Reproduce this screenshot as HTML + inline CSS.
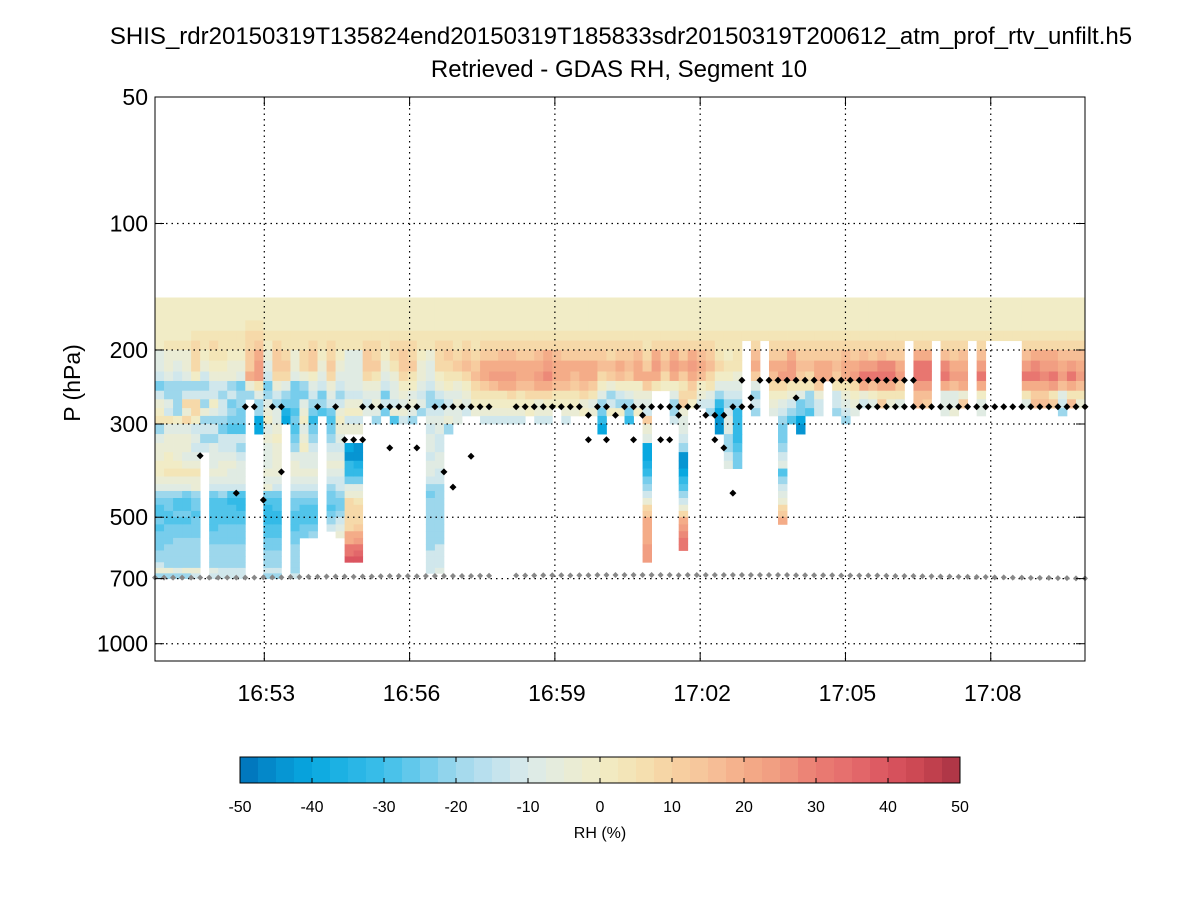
<!DOCTYPE html>
<html><head><meta charset="utf-8"><title>Retrieved - GDAS RH</title>
<style>
html,body{margin:0;padding:0;background:#fff;}
svg{display:block;font-family:"Liberation Sans",sans-serif;}
</style></head>
<body>
<svg id="chart" xmlns="http://www.w3.org/2000/svg" width="1200" height="900" viewBox="0 0 1200 900">
  <rect x="0" y="0" width="1200" height="900" fill="#fff"/>
  <text x="621" y="44" text-anchor="middle" font-size="24">SHIS_rdr20150319T135824end20150319T185833sdr20150319T200612_atm_prof_rtv_unfilt.h5</text>
  <text x="619" y="77" text-anchor="middle" font-size="24">Retrieved - GDAS RH, Segment 10</text>
  <text transform="translate(80,383) rotate(-90)" text-anchor="middle" font-size="23">P (hPa)</text>
  <g id="cells"></g>
  <g id="grid"></g>
  <g id="marks"></g>
  <g id="axes"></g>
  <g id="cbar"></g>
  <text x="600" y="838" text-anchor="middle" font-size="16">RH (%)</text>
</svg>
<script>
// ---- data ----
var pressureEdges = [150,160,170,180,190,200,212,225,237,250,262,275,287,300,317,333,350,367,383,400,417,433,450,467,483,500,520,540,560,580,600,620,640,660,680,700];
// each char: A=-48 ... M=0 ... Y=+48 (step 4), '.' = missing; one string per time column, rows top->down
var columnValues = [
"MMMMM KKJG JLMN HKLLMMLKHGFF GFGGGHHJLH",
"MMMMN LLKH HKJN KLLMMNLKHGGF FGGGHHHHLH",
"MMMMN LKJH HHHM KLLLMNLKHFFG FGGHHHHHKH",
"MMMMN LLKH JOLO KLLKLNLKGFFG FGGHHHHHLH",
"MMMNO OOMH JOOM JKJKLNLLHGGF GGGHHHHHLJ",
"MMMNN MLJH JHLH JHJ",
"MMMNO NMLJ JMKH JHKKKLKJGFFF FFGGHHHHKJ",
"MMMNN NMLJ HJJH GJJKLLKJHFFF FGGGHHHHJJ",
"MMMNN MLLH JGHG FJJKLKKJFEFF FGGGHHHHJJ",
"MMMNN MLKG HHGG FJHJKKKJFEEF FGGGHHHHJJ",
"MMNOO PPRL H",
"MMNOP RSSN KHHC C",
"MMMNM LKJG HKLM KLKKKLKLGFEE EFFGGHHHJH",
"MMMNO PPOL JHKK LMLLLLKJGFFE EFFGGHHHJH",
"MMMNN OPOK HGDC",
"MMMNN LLKG GGFG FGHKLLKJHGGF FFGGHHHHHJ",
"MMMNN OOLH GKLM KLMKKLKJHGFF FGG",
"MMMNO PPMK JHGE GHJKKLKJHGFF FGH",
"MMMNN MLKJ GHF",
"MMMNO OPOL KJGF GHJKLKJHGGFG HJ",
"MMMNN MLKJ HJLM LKJKLKJJHGGH JKL",
"MMMNN KKKK JLMJ L.CBEEGKLOOO OORRUUW",
"MMMNN KKKK JLMJ L.BBDEGKLNOO OPRSUVW",
"MMMNO PPOL KJK",
"MMMNO OPNL KLKH",
"MMMNN MLKJ GJG",
"MMMNO ONLK KJLF",
"MMMNO PPOM LKLJ",
"MMMNO OPNM KLKH",
"MMMNN MLLK JKH",
"MMMNN LKKJ HHJK JKKJKKJHGHHH HHHHHJJJJ",
"MMMNO OOML JHJK KJJKKJJHHHHH HHHHJJJJK",
"MMMNO PONM KJKL H",
"MMMNN OPNL KLKK",
"MMMNO PQOM LKJ",
"MMMNN OPQO NML",
"MMMNO PRRP NMLJ",
"MMMNO PRSQ NMLJ",
"MMMNO QRSR NMLJ",
"MMMNO QRSR OMLJ",
"MMMNO PRRQ NMLJ",
"MMMNO PRRQ OMM",
"MMMNO QRSR OLLJ",
"MMMNO RSTR OMLJ",
"MMMNO QRRQ NM",
"MMMNO PRRQ NMLJ",
"MMMNO PRQP NML",
"MMMNO PRRQ OLM",
"MMMNO PRRP NKL",
"MMMNO PQOM KHGE C",
"MMMNO OQPL HJM",
"MMMNO PRQM JHM",
"MMMNO PQPM KHGE",
"MMMNO QRRM LKM",
"MMMNN OPRP LKJP LKCCDEGHJLOP RRRRSSS",
"MMMNO RSRN",
"MMMNO PQOM",
"MMMNO RSRM KHHJ",
"MMMNO PRPN OPLK KJHBBCEFHJLO RSTUU",
"MMMNO RSRP OM",
"MMMNO QRQM LJ",
"MMMNO PQON KJH",
"MMMNN NOMK HECB B",
"MMMNN MNMK JHJK KHHJK",
"MMMNN NNLK JHEE EEFGG",
"MMMN",
"MMMNO QRPK HJH",
"MMMN",
"MMMNO PRQO MLK",
"MMMNO PRSO MKJH GGHJKFHJKLOP R",
"MMMNO RSSN LJHF",
"MMMNO PQPN KGGC B",
"MMMNO PQON HHF",
"MMMNO PRRP LJJ",
"MMMNO PRR",
"MMMNO PQPN JJH",
"MMMNO QRRN LKJH",
"MMMNO PRSO MLK",
"MMMNO QSUR LJ",
"MMMNO PSUQ MK",
"MMMNO QTUR NP",
"MMMNO PTUR NL",
"MMMNO PRSP NK",
"MMMN",
"MMMNO RUUS QQ",
"MMMNO RUUS QP",
"MMMN",
"MMMNO QTUR KKK",
"MMMNO PRSQ KKL",
"MMMNO QRSR LP",
"MMMN",
"MMMNO QSUR MKK",
"MMMN",
"MMMN",
"MMMN",
"MMMN",
"MMMNO QSUR NK",
"MMMNO RTUR PQ",
"MMMNO RSTR PQ",
"MMMNO RSUS NP",
"MMMNO QRSQ KJH",
"MMMNO QSUR NQ",
"MMMNO QRSQ NL"
];
// black markers: column index and pressure (hPa)
var markK = [5,9,10,11,12,13,14,14,18,20,21,22,23,23,24,25,26,26,27,28,29,29,31,32,32,33,33,34,35,35,
 36,37,40,41,42,43,44,45,46,47,48,48,49,50,50,51,52,53,53,54,54,55,56,56,57,57,58,58,59,60,61,62,62,63,63,64,64,65,65,66,66,
 67,68,69,70,71,72,73,74,75,76,77,78,79,80,81,82,83,84,71,
 78,79,80,81,82,83,84,85,86,87,88,89,90,91,92,93,94,95,96,97,98,99,100,101,102,103];
var markP = [357,438,273,273,455,273,273,390,273,273,327,327,327,273,273,273,273,342,273,273,273,342,273,273,390,273,424,273,273,358,
 273,273,273,273,273,273,273,273,273,273,286,327,273,273,327,286,273,273,327,273,286,273,273,327,273,327,273,286,273,273,286,286,327,286,342,273,438,273,236,273,260,
 236,236,236,236,236,236,236,236,236,236,236,236,236,236,236,236,236,236,260,
 273,273,273,273,273,273,273,273,273,273,273,273,273,273,273,273,273,273,273,273,273,273,273,273,273,273];
// gray (near-surface) markers, pressure per column index (null = none)
var grayP = [696,696,696,696,696,696,696,696,696,696,696,696,695,695,695,694,694,693,693,692,692,692,693,692,692,691,690,690,690,691,690,690,690,690,690,690,
 689,689,null,null,688,688,688,687,687,687,688,687,687,686,686,686,686,686,686,686,686,686,687,686,686,686,686,686,686,686,686,686,686,686,686,
 687,687,687,687,687,688,688,688,688,688,689,690,690,690,691,691,692,692,693,693,694,694,695,695,696,696,697,697,697,698,698,699,699];
var yTickValues = [50,100,200,300,500,700,1000];
var yTickLabels = ["50","100","200","300","500","700","1000"];
var xTickMinutes = [53,56,59,62,65,68];
var xTickLabels = ["16:53","16:56","16:59","17:02","17:05","17:08"];
var cbarTicks = [-50,-40,-30,-20,-10,0,10,20,30,40,50];
var cbarLabels = ["-50","-40","-30","-20","-10","0","10","20","30","40","50"];

// ---- scales ----
var NS="http://www.w3.org/2000/svg";
var PL=155, PR=1085, PT=97, PB=661;
var nCols = columnValues.length;
function yP(p){ return 97 + 126.5*Math.log(p/50)/Math.LN2; }
function xCol(k){ return PL + k*(PR-PL)/nCols; }
function xMin(m){ return 264.3 + (m-53)*48.43; }
var stops=[[-50,[0,112,184]],[-45,[5,144,207]],[-40,[8,168,224]],[-30,[62,191,233]],[-25,[109,203,236]],[-20,[157,215,236]],[-15,[191,226,238]],[-10,[219,234,234]],[-5,[232,236,217]],[0,[241,236,198]],[5,[244,227,179]],[10,[247,210,162]],[15,[246,195,154]],[20,[244,172,136]],[25,[240,154,128]],[30,[234,125,114]],[35,[228,107,108]],[40,[219,85,96]],[45,[200,69,80]],[50,[168,50,68]]];
function color(v){
  v=Math.max(-50,Math.min(50,v));
  for(var i=0;i<stops.length-1;i++){
    var a=stops[i],b=stops[i+1];
    if(v<=b[0]){var t=(v-a[0])/(b[0]-a[0]);
      return "rgb("+[0,1,2].map(function(j){return Math.round(a[1][j]+t*(b[1][j]-a[1][j]));}).join(",")+")";}
  }
  return "rgb(168,50,68)";
}
function mk(tag,attrs,parent){var e=document.createElementNS(NS,tag);for(var k in attrs)e.setAttribute(k,attrs[k]);parent.appendChild(e);return e;}

// ---- heatmap ----
var gC=document.getElementById('cells');
columnValues.forEach(function(str,i){
  var s=str.replace(/ /g,'');
  for(var r=0;r<s.length && r<pressureEdges.length-1;r++){
    var ch=s[r]; if(ch==='.') continue;
    var v=(ch.charCodeAt(0)-77)*4;
    var y0=yP(pressureEdges[r]), y1=yP(pressureEdges[r+1]);
    var x0=xCol(i), x1=xCol(i+1);
    var rc=mk('rect',{x:x0.toFixed(2),y:y0.toFixed(2),width:(x1-x0+0.4).toFixed(2),height:(y1-y0+0.4).toFixed(2),fill:color(v)},gC);
    
    
  }
});

// ---- grid ----
var gG=document.getElementById('grid');
yTickValues.forEach(function(p){
  if(p===50) return;
  var y=yP(p);
  var l=mk('line',{x1:PL,x2:PR,y1:y,y2:y,stroke:'#000','stroke-width':1.2,'stroke-dasharray':'1.5,4'},gG);
  
  
});
xTickMinutes.forEach(function(m){
  var x=xMin(m);
  var l=mk('line',{x1:x,x2:x,y1:PT,y2:PB,stroke:'#000','stroke-width':1.2,'stroke-dasharray':'1.5,4'},gG);
  
  
});

// ---- markers ----
var gM=document.getElementById('marks');
function diamond(x,y,s){return "M"+x+","+(y-s)+"L"+(x+s)+","+y+"L"+x+","+(y+s)+"L"+(x-s)+","+y+"Z";}
grayP.forEach(function(p,k){
  if(p===null) return;
  var d=mk('path',{d:diamond(xCol(k),yP(p),3),fill:'#888'},gM);
  
  
});
markK.forEach(function(k,i){
  var d=mk('path',{d:diamond(xCol(k),yP(markP[i]),3.5),fill:'#000'},gM);
  
  
});

// ---- axes ----
var gA=document.getElementById('axes');
var box=mk('rect',{x:PL,y:PT,width:PR-PL,height:PB-PT,fill:'none',stroke:'#000','stroke-width':1},gA);


yTickValues.forEach(function(p,i){
  var y=yP(p);
  var t1=mk('line',{x1:PL,x2:PL+9,y1:y,y2:y,stroke:'#000'},gA);
  
  
  var t2=mk('line',{x1:PR-9,x2:PR,y1:y,y2:y,stroke:'#000'},gA);
  
  
  var tx=mk('text',{x:148,y:y+8,'text-anchor':'end','font-size':23},gA);
  tx.textContent=yTickLabels[i];
  
  
});
xTickMinutes.forEach(function(m,i){
  var x=xMin(m);
  var t1=mk('line',{x1:x,x2:x,y1:PB-9,y2:PB,stroke:'#000'},gA);
  
  
  var t2=mk('line',{x1:x,x2:x,y1:PT,y2:PT+9,stroke:'#000'},gA);
  
  
  var tx=mk('text',{x:x+2,y:701,'text-anchor':'middle','font-size':23},gA);
  tx.textContent=xTickLabels[i];
  
  
});

// ---- colorbar ----
var gB=document.getElementById('cbar');
var CB0=240, CB1=960, CBT=757, CBB=783;
function xCb(v){return CB0+(v+50)/100*(CB1-CB0);}
for(var v=-50; v<50; v+=2.5){
  var r=mk('rect',{x:xCb(v).toFixed(2),y:CBT,width:(xCb(v+2.5)-xCb(v)+0.4).toFixed(2),height:CBB-CBT,fill:color(v+1.25)},gB);
  
  
}
var cf=mk('rect',{x:CB0,y:CBT,width:CB1-CB0,height:CBB-CBT,fill:'none',stroke:'#000'},gB);


cbarTicks.forEach(function(v,i){
  var x=xCb(v);
  var a=mk('line',{x1:x,x2:x,y1:CBT,y2:CBT+5,stroke:'#000'},gB);
  
  
  var b=mk('line',{x1:x,x2:x,y1:CBB-5,y2:CBB,stroke:'#000'},gB);
  
  
  var t=mk('text',{x:x,y:812,'text-anchor':'middle','font-size':16},gB);
  t.textContent=cbarLabels[i];
  
  
});
</script>
</body></html>
